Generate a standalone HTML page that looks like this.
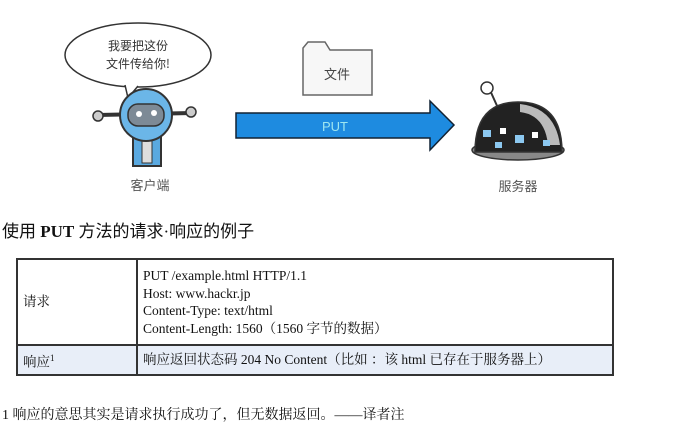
<!DOCTYPE html>
<html><head><meta charset="utf-8"><style>
body{margin:0;width:679px;height:432px;background:#fff;position:relative;overflow:hidden;font-family:"Liberation Serif","Noto Serif CJK SC",serif;color:#111}
.a{position:absolute}
table{border-collapse:collapse;position:absolute;left:16px;top:258px;width:598px;font-size:13.5px;line-height:17.5px}
td{border:2px solid #333;padding:2px 5px;vertical-align:middle}
</style></head><body>
<svg class="a" style="left:0;top:0" width="679" height="200">
<ellipse cx="138" cy="55" rx="73" ry="32" fill="#fff" stroke="#333" stroke-width="1.5"/>
<path d="M125 85 L128 98 L138 86" fill="#fff" stroke="#333" stroke-width="1.5"/>
<text x="138" y="50" font-size="12" text-anchor="middle" font-family="Noto Sans CJK SC,sans-serif" fill="#333">我要把这份</text>
<text x="138" y="68" font-size="12" text-anchor="middle" font-family="Noto Sans CJK SC,sans-serif" fill="#333">文件传给你!</text>
<line x1="98" y1="115" x2="192" y2="113" stroke="#333" stroke-width="4"/>
<circle cx="98" cy="116" r="5" fill="#ccc" stroke="#333" stroke-width="1.5"/>
<circle cx="191" cy="112" r="5" fill="#ccc" stroke="#333" stroke-width="1.5"/>
<rect x="133" y="130" width="28" height="36" fill="#5aa9e0" stroke="#333" stroke-width="2"/>
<rect x="142" y="135" width="10" height="28" fill="#ddd" stroke="#333"/>
<circle cx="146" cy="115" r="26" fill="#6bb6e8" stroke="#333" stroke-width="2"/>
<rect x="128" y="104" width="36" height="22" rx="10" fill="#7d8a96" stroke="#333" stroke-width="1.5"/>
<circle cx="139" cy="114" r="3" fill="#fff"/><circle cx="154" cy="113" r="3" fill="#fff"/>
<text x="150" y="190" font-size="13" text-anchor="middle" font-family="Noto Sans CJK SC,sans-serif" fill="#555">客户端</text>
<path d="M303 48 L303 95 L372 95 L372 50 L330 50 L325 42 L308 42 Z" fill="#f7f7f7" stroke="#666" stroke-width="1.5"/>
<text x="337" y="79" font-size="13" text-anchor="middle" font-family="Noto Sans CJK SC,sans-serif" fill="#444">文件</text>
<path d="M236 113 L430 113 L430 101 L454 125 L430 150 L430 138 L236 138 Z" fill="#1e8be0" stroke="#123" stroke-width="1.5"/>
<text x="335" y="131" font-size="13" text-anchor="middle" font-family="Liberation Sans,sans-serif" fill="#9ee6f0">PUT</text>
<line x1="489" y1="88" x2="498" y2="108" stroke="#333" stroke-width="2"/>
<circle cx="487" cy="88" r="6" fill="#fff" stroke="#333" stroke-width="1.5"/>
<ellipse cx="518" cy="150" rx="46" ry="10" fill="#888" stroke="#333" stroke-width="1.5"/>
<path d="M475 152 Q475 102 518 102 Q562 102 562 152 Z" fill="#222" stroke="#333" stroke-width="1.5"/>
<path d="M520 104 Q555 108 560 145 L548 145 Q545 115 520 112 Z" fill="#bbb"/>
<rect x="483" y="130" width="8" height="7" fill="#8cc8f0"/><rect x="500" y="128" width="6" height="6" fill="#fff"/><rect x="515" y="135" width="9" height="8" fill="#8cc8f0"/><rect x="532" y="132" width="6" height="6" fill="#fff"/><rect x="495" y="142" width="7" height="6" fill="#8cc8f0"/><rect x="543" y="140" width="7" height="6" fill="#8cc8f0"/>
<text x="518" y="191" font-size="13" text-anchor="middle" font-family="Noto Sans CJK SC,sans-serif" fill="#555">服务器</text>
</svg>
<div class="a" style="left:2px;top:217px;font-size:17px;font-family:'Liberation Serif','Noto Sans CJK SC',serif">使用 <b>PUT</b> 方法的请求·响应的例子</div>
<table>
<tr style="height:86px"><td style="width:108px">请求</td><td>PUT /example.html HTTP/1.1<br>Host: www.hackr.jp<br>Content-Type: text/html<br>Content-Length: 1560（1560 字节的数据）</td></tr>
<tr style="height:30px;background:#e8eef8"><td>响应<sup style="font-size:9px">1</sup></td><td>响应返回状态码 204 No Content（比如 ：该 html 已存在于服务器上）</td></tr>
</table>
<div class="a" style="left:2px;top:404px;font-size:14px">1 响应的意思其实是请求执行成功了，但无数据返回。——译者注</div>
</body></html>
